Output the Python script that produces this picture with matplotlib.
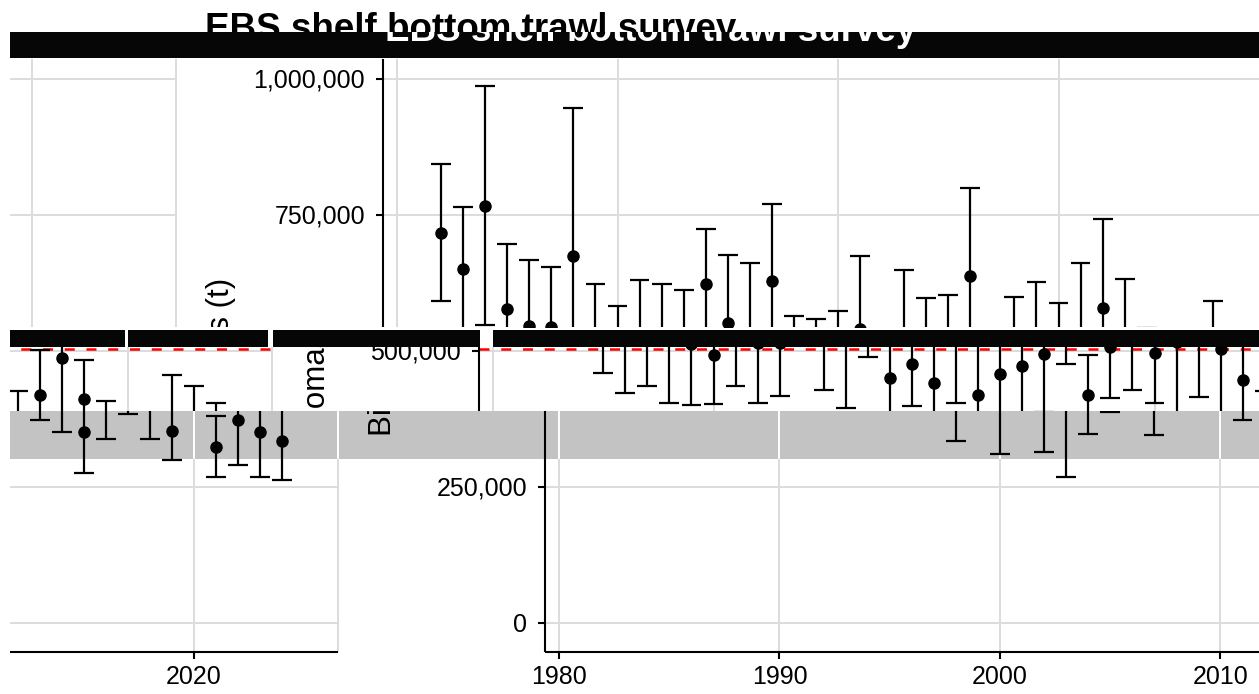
import numpy as np
import matplotlib
matplotlib.use("Agg")
import matplotlib.pyplot as plt

plt.rcParams['font.family'] = ['Liberation Sans', 'DejaVu Sans']

# ---- survey biomass estimates with confidence limits (t) ----
years = np.array([1982, 1983, 1984, 1985, 1986, 1987, 1988, 1989, 1990, 1991,
                  1992, 1993, 1994, 1995, 1996, 1997, 1998, 1999, 2000, 2001,
                  2002, 2003, 2004, 2005, 2006, 2007, 2008, 2009, 2010, 2011,
                  2012, 2013, 2014, 2015, 2016, 2017, 2018, 2019, 2021, 2022,
                  2023, 2024])
biomass = np.array([717, 650, 767, 577, 546, 545, 675, 513, 493, 532,
                    514, 515, 623, 552, 528, 629, 450, 477, 442, 540,
                    420, 457, 472, 495, 638, 419, 507, 528, 496, 517,
                    579, 503, 447, 351, 420, 488, 411, 353, 324, 373,
                    352, 335]) * 1000.0
lower_ci = np.array([591, 535, 547, 459, 423, 436, 404, 401, 402, 435,
                     405, 417, 521, 429, 396, 489, 335, 399, 311, 405,
                     314, 268, 347, 387, 476, 345, 414, 429, 404, 373,
                     415, 374, 351, 275, 339, 385, 339, 300, 269, 291,
                     269, 263]) * 1000.0
upper_ci = np.array([843, 765, 987, 697, 668, 654, 947, 624, 583, 630,
                     623, 613, 725, 676, 661, 770, 564, 559, 574, 675,
                     526, 648, 597, 603, 800, 493, 600, 627, 589, 661,
                     743, 632, 543, 427, 501, 591, 483, 408, 380, 455,
                     436, 405]) * 1000.0
mean_biomass = biomass.mean()

x_breaks = [1980, 1990, 2000, 2010, 2020]
x_labels = ['1980', '1990', '2000', '2010', '2020']
y_breaks = [0, 250000, 500000, 750000, 1000000]
y_labels = ['0', '250,000', '500,000', '750,000', '1,000,000']
title = 'EBS shelf bottom trawl survey'
y_title = 'Biomass (t)'

# ---- page geometry (pixels) ----
W, H = 1259, 694
GRID = '#dcdcdc'
TICK_FS = 18


def yr_at(col):
    return 1980 + (col - 559) / 22.05


def val_at(row):
    return (623 - row) * 1838.2


def row_of(v):
    return 623 - v / 1838.2


PANEL_L = yr_at(545)
PANEL_R = yr_at(1585)
PANEL_B = val_at(652)
PANEL_T = val_at(59)

fig = plt.figure(figsize=(W / 100, H / 100), dpi=100)
fig.patch.set_facecolor('white')


def band_axes(r0, r1, shift, bg='none', c0=10, c1=W):
    ax = fig.add_axes([c0 / W, 1 - r1 / H, (c1 - c0) / W, (r1 - r0) / H])
    ax.set_xlim(yr_at(c0 + shift), yr_at(c1 + shift))
    ax.set_ylim(val_at(r1), val_at(r0))
    ax.set_facecolor(bg)
    for s in ax.spines.values():
        s.set_visible(False)
    ax.set_xticks([])
    ax.set_yticks([])
    return ax


def draw_chart(ax, grid_color=GRID):
    # panel grid
    ax.hlines(y_breaks, PANEL_L, PANEL_R, colors=grid_color, lw=1.4, zorder=1)
    ax.vlines(x_breaks, PANEL_B, PANEL_T, colors=grid_color, lw=1.4, zorder=1)
    ax.vlines([PANEL_R], PANEL_B, PANEL_T, colors=grid_color, lw=1.4, zorder=1)
    # long-term mean
    ax.hlines(mean_biomass, PANEL_L, PANEL_R, colors='red',
              linestyles=(0, (4, 4.7)), lw=1.8, zorder=2)
    # error bars and estimates
    ax.vlines(years, lower_ci, upper_ci, colors='black', lw=1.6, zorder=3)
    ax.hlines(lower_ci, years - 0.45, years + 0.45, colors='black', lw=1.6, zorder=3)
    ax.hlines(upper_ci, years - 0.45, years + 0.45, colors='black', lw=1.6, zorder=3)
    ax.plot(years, biomass, 'o', ms=8, color='black', zorder=4)
    # axis lines and ticks
    ax.vlines([PANEL_L], PANEL_B, PANEL_T, colors='black', lw=1.5, zorder=5)
    ax.hlines([PANEL_B], PANEL_L, PANEL_R, colors='black', lw=1.5, zorder=5)
    ax.hlines(y_breaks, yr_at(538), PANEL_L, colors='black', lw=1.5, zorder=5)
    ax.vlines(x_breaks, val_at(658.5), PANEL_B, colors='black', lw=1.5, zorder=5)
    # tick labels
    for v, lab in zip(y_breaks, y_labels):
        ax.text(yr_at(527), val_at(row_of(v) + 8.6), lab, ha='right',
                va='baseline', fontsize=TICK_FS, clip_on=True)
    for x, lab in zip(x_breaks, x_labels):
        ax.text(x, val_at(684.5), lab, ha='center', va='baseline',
                fontsize=TICK_FS, clip_on=True)
    ax.text(yr_at(383), val_at(356.5), y_title, rotation=90, ha='center',
            va='center', fontsize=22.5, clip_on=True)


# title row
ax_title = band_axes(0, 32, 162, 'white')
ax_title.text(yr_at(367), val_at(39), title, fontsize=26.5, fontweight='bold',
              ha='left', va='baseline', clip_on=True)

# dark strip under the title
ax_strip = band_axes(32, 58, -18, '#060606')
ax_strip.text(yr_at(367), val_at(40.5), title, fontsize=26.5, fontweight='bold',
              color='white', ha='left', va='baseline', clip_on=True)

# upper rows
ax = band_axes(58, 327, 162, 'white')
draw_chart(ax)
ax = band_axes(58, 327, 162 + 1247)
draw_chart(ax)

# dark strip through the middle
ax_dark = band_axes(330, 347, 66, '#060606')
for c0, c1 in [(125, 128), (268, 273), (480, 493)]:
    ax_dark.axvspan(yr_at(c0 + 66), yr_at(c1 + 66), color='white', lw=0)

# middle rows
ax = band_axes(347, 411, 66, 'white')
draw_chart(ax)
ax = band_axes(347, 411, 66 + 1247)
draw_chart(ax)

# grey rows
ax = band_axes(411, 459, 0, '#c3c3c3')
draw_chart(ax, grid_color='white')
ax = band_axes(411, 459, 1247)
draw_chart(ax, grid_color='white')

# lower rows
ax = band_axes(459, 694, 0, 'white')
draw_chart(ax)
ax = band_axes(459, 694, 1247)
draw_chart(ax)

fig.savefig('out.png', dpi=100, facecolor='white')
